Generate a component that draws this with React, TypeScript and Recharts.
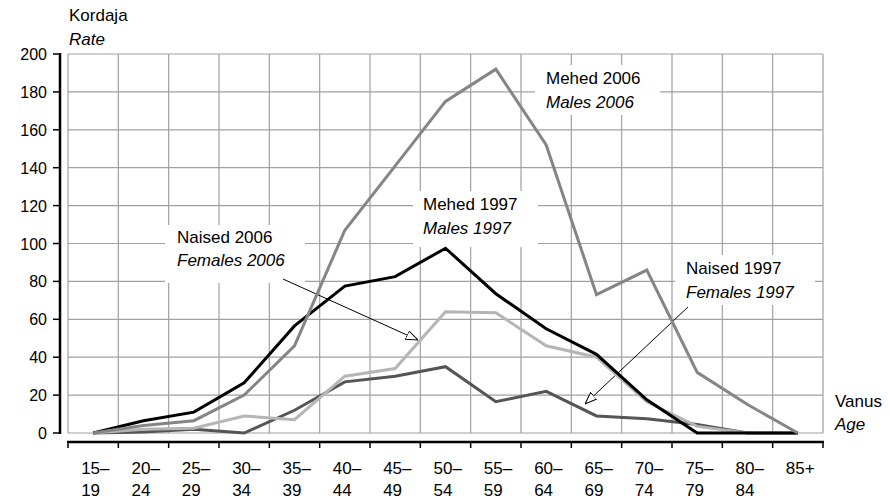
import { CartesianGrid, Line, LineChart, XAxis, YAxis } from 'recharts'

// Vanuserühmad (x-telg)
const AGE_GROUPS = ['15–19', '20–24', '25–29', '30–34', '35–39', '40–44', '45–49', '50–54', '55–59', '60–64', '65–69', '70–74', '75–79', '80–84', '85+']

const MALES_2006 = [0, 4, 6.5, 20, 46, 107, 141, 175, 192, 152, 73, 86, 32, 15, 0]
const MALES_1997 = [0, 6.5, 11, 26.5, 56.5, 77.5, 82.5, 97.5, 73.5, 55, 41.5, 17.5, 0, 0, 0]
const FEMALES_2006 = [0, 2, 2.5, 9, 7, 30, 34, 64, 63.5, 46, 40, 16.5, 3.5, 0, 0]
const FEMALES_1997 = [0, 0.5, 2, 0, 12, 27, 30, 35, 16.5, 22, 9, 7.5, 4.5, 0, 0]

const Y_TICKS = [0, 20, 40, 60, 80, 100, 120, 140, 160, 180, 200]

const dados = AGE_GROUPS.map((age, i) => ({
  age,
  m2006: MALES_2006[i],
  m1997: MALES_1997[i],
  f2006: FEMALES_2006[i],
  f1997: FEMALES_1997[i],
}))

const CHART_W = 890
const CHART_H = 499
const MARGIN = { top: 54, right: 67, bottom: 0, left: 0 }
const Y_AXIS_W = 68
const X_AXIS_H = 66
const PLOT_W = CHART_W - MARGIN.left - MARGIN.right - Y_AXIS_W
const PLOT_H = CHART_H - MARGIN.top - MARGIN.bottom - X_AXIS_H

const FONT = '"Liberation Sans", Arial, Helvetica, sans-serif'
const GRID = '#a0a0a0'

// annotation boxes: [left, top, width, height], text start, two baselines
const NOTES = [
  { box: [535, 65, 125, 50], tx: 546, y1: 84, y2: 108, et: 'Mehed 2006', en: 'Males 2006' },
  { box: [413, 191, 125, 56], tx: 423, y1: 210, y2: 234, et: 'Mehed 1997', en: 'Males 1997' },
  { box: [165, 225, 140, 58], tx: 177, y1: 243, y2: 266, et: 'Naised 2006', en: 'Females 2006' },
  { box: [675, 255, 140, 50], tx: 686, y1: 274, y2: 298, et: 'Naised 1997', en: 'Females 1997' },
]
const ARROWS = [
  [283, 279, 418, 340],
  [688, 307, 585, 404],
]

function EixoXTick(props: any) {
  const { x, y, payload, index } = props
  const w = props.width ?? PLOT_W
  const band = w / AGE_GROUPS.length
  const left = x - band / 2
  const parts = String(payload.value).split('–')
  const l1 = parts.length > 1 ? parts[0] + '–' : parts[0]
  const l2 = parts.length > 1 ? parts[1] : null
  return (
    <g>
      {index === 0 && <line x1={left - 1} x2={left + w + 1} y1={y + 9} y2={y + 9} stroke="#000" strokeWidth={2.5} />}
      <line x1={left} x2={left} y1={y + 9} y2={y + 15} stroke="#000" strokeWidth={1.5} />
      {index === AGE_GROUPS.length - 1 && <line x1={left + band} x2={left + band} y1={y + 9} y2={y + 15} stroke="#000" strokeWidth={1.5} />}
      <text x={x - 12} y={y + 41} fontSize={17} fontFamily={FONT} fill="#000">{l1}</text>
      {l2 && <text x={x - 12} y={y + 63} fontSize={17} fontFamily={FONT} fill="#000">{l2}</text>}
    </g>
  )
}

function EixoYTick(props: any) {
  const { x, y, payload } = props
  const h = props.height ?? PLOT_H
  return (
    <g>
      {payload.value === 0 && <line x1={x - 8} x2={x - 8} y1={y + 1} y2={y - h - 1} stroke="#000" strokeWidth={2.5} />}
      <line x1={x - 15} x2={x - 8} y1={y} y2={y} stroke="#000" strokeWidth={1.5} />
      <text x={x - 21} y={y + 6} textAnchor="end" fontSize={16} fontFamily={FONT} fill="#000">{payload.value}</text>
    </g>
  )
}

export default function App() {
  return (
    <div style={{ position: 'absolute', left: 0, top: 0, width: CHART_W, height: CHART_H, background: '#fff' }}>
      <LineChart width={CHART_W} height={CHART_H} data={dados} margin={MARGIN}>
        <defs>
          <marker id="seta" viewBox="0 0 12 10" refX="12" refY="5" markerWidth="12" markerHeight="10" markerUnits="userSpaceOnUse" orient="auto">
            <path d="M0,0.5 L12,5 L0,9.5 Z" fill="#fff" stroke="#000" strokeWidth={1} />
          </marker>
        </defs>
        <CartesianGrid
          stroke={GRID}
          strokeWidth={1.2}
          verticalCoordinatesGenerator={({ offset }: any) =>
            [...AGE_GROUPS.map((_, i) => i), AGE_GROUPS.length].map(i => offset.left + (i * offset.width) / AGE_GROUPS.length)
          }
        />
        <XAxis
          dataKey="age"
          scale="band"
          interval={0}
          height={X_AXIS_H}
          axisLine={false}
          tickLine={false}
          tickSize={0}
          tickMargin={0}
          tick={(p: any) => <EixoXTick {...p} />}
        />
        <YAxis
          domain={[0, 200]}
          ticks={Y_TICKS}
          interval={0}
          width={Y_AXIS_W}
          axisLine={false}
          tickLine={false}
          tickSize={0}
          tickMargin={0}
          tick={(p: any) => <EixoYTick {...p} />}
        />
        <Line dataKey="f1997" stroke="#555555" strokeWidth={3} dot={false} isAnimationActive={false} />
        <Line dataKey="f2006" stroke="#b5b5b5" strokeWidth={3} dot={false} isAnimationActive={false} />
        <Line dataKey="m1997" stroke="#000000" strokeWidth={3} dot={false} isAnimationActive={false} />
        <Line dataKey="m2006" stroke="#858585" strokeWidth={3} dot={false} isAnimationActive={false} />

        <g fontFamily={FONT} fontSize={17} fill="#000">
          <text x={69} y={21}>Kordaja</text>
          <text x={69} y={45} fontStyle="italic">Rate</text>
          <text x={835} y={407}>Vanus</text>
          <text x={835} y={430} fontStyle="italic">Age</text>
          {NOTES.map(n => (
            <g key={n.et}>
              <rect x={n.box[0]} y={n.box[1]} width={n.box[2]} height={n.box[3]} fill="#fff" />
              <text x={n.tx} y={n.y1}>{n.et}</text>
              <text x={n.tx} y={n.y2} fontStyle="italic">{n.en}</text>
            </g>
          ))}
          {ARROWS.map((a, i) => (
            <line key={i} x1={a[0]} y1={a[1]} x2={a[2]} y2={a[3]} stroke="#000" strokeWidth={1} markerEnd="url(#seta)" />
          ))}
        </g>
      </LineChart>
    </div>
  )
}
